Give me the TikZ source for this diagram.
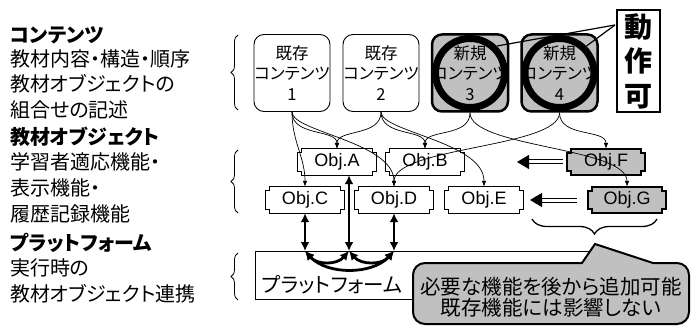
\documentclass[tikz,border=0pt]{standalone}
\usepackage{fontspec}
\setmainfont{Liberation Sans}
\newfontfamily\jp[RawFeature=+palt]{Noto Sans CJK JP}
\usetikzlibrary{arrows.meta,decorations.pathreplacing,backgrounds,calc}
\definecolor{boxgray}{RGB}{192,192,192}
\newcommand\objpath[1]{($(#1.north west)+(4,0)$) -- ($(#1.north east)+(-4,0)$) -- ++(0,4) -- ++(4,0) -- ($(#1.south east)+(0,-4)$) -- ++(-4,0) -- ++(0,4) -- ($(#1.south west)+(4,0)$) -- ++(0,-4) -- ++(-4,0) -- ($(#1.north west)+(0,4)$) -- ++(4,0) -- cycle}
\begin{document}
\begin{tikzpicture}[x=1pt,y=-1pt,
  lefttxt/.style={anchor=west, inner sep=0pt, font=\jp\fontsize{20}{20}\selectfont},
  lefthead/.style={anchor=west, inner sep=0pt, font=\jp\bfseries\fontsize{20}{20}\selectfont},
  content/.style={draw, rounded corners=10pt, minimum width=76pt, minimum height=77pt, inner sep=0pt, align=center, font=\jp\fontsize{16.5}{20.5}\selectfont, line width=0.9pt},
  newcontent/.style={content, fill=boxgray, line width=2.5pt},
  obj/.style={minimum width=78pt, minimum height=26pt, inner sep=0pt, font=\fontsize{18}{18}\selectfont},
  objframe/.style={draw, line width=0.9pt, fill=white},
  newframe/.style={draw, line width=2.5pt, fill=boxgray},
  link/.style={line width=0.7pt, -{Latex[length=6pt,width=4.5pt]}},
  bus/.style={line width=2.8pt, {Latex[length=9pt,width=9pt]}-{Latex[length=9pt,width=9pt]}},
  dbl/.style={double, double distance=3pt, line width=1pt, -{Triangle[length=12pt,width=14pt]}},
  lbrace/.style={decorate, decoration={brace, amplitude=7pt}, line width=0.8pt},
  ring/.style={line width=7pt}
]
\useasboundingbox (0,0) rectangle (691,326);

% left column
\node[lefthead] (h1) at (10,35) {コンテンツ};
\node[lefttxt] (t11) at (10,59) {教材内容・構造・順序};
\node[lefttxt] (t12) at (10,84) {教材オブジェクトの};
\node[lefttxt] (t13) at (10,110) {組合せの記述};
\node[lefthead] (h2) at (10,137) {教材オブジェクト};
\node[lefttxt] (t21) at (10,162) {学習者適応機能・};
\node[lefttxt] (t22) at (10,188) {表示機能・};
\node[lefttxt] (t23) at (10,214) {履歴記録機能};
\node[lefthead] (h3) at (10,243) {プラットフォーム};
\node[lefttxt] (t31) at (10,268) {実行時の};
\node[lefttxt] (t32) at (10,294) {教材オブジェクト連携};

% braces
\coordinate (b1a) at (238,110); \coordinate (b1b) at (238,35);
\coordinate (b2a) at (238,213); \coordinate (b2b) at (238,150);
\coordinate (b3a) at (238,300); \coordinate (b3b) at (238,253);
\draw[lbrace] (b1a) -- (b1b);
\draw[lbrace] (b2a) -- (b2b);
\draw[lbrace] (b3a) -- (b3b);

% contents
\node[content] (c1) at (292,73) {既存\\コンテンツ\\1};
\node[content] (c2) at (381,73) {既存\\コンテンツ\\2};
\node[newcontent] (c3) at (470,73) {新規\\コンテンツ\\3};
\node[newcontent] (c4) at (559.5,73) {新規\\コンテンツ\\4};
\draw[ring] (c3.center) circle (34.5pt);
\draw[ring] (c4.center) circle (34.5pt);

% dosa box
\node[draw, line width=2pt, minimum width=43pt, minimum height=102pt, inner sep=0pt, align=center, font=\jp\bfseries\fontsize{28}{34.5}\selectfont] (dosa) at (638.5,61) {動\\作\\可};
\coordinate (dtip) at (615,25);
\draw[line width=1.2pt] (dtip) -- ($(c3.center)+(27,-27)$);
\draw[line width=1.2pt] (dtip) -- ($(c4.center)+(27,-27)$);

% objects
\node[obj] (oA) at (337,162) {Obj.A};
\node[obj] (oB) at (425,162) {Obj.B};
\node[obj] (oC) at (305,200) {Obj.C};
\node[obj] (oD) at (394,200) {Obj.D};
\node[obj] (oE) at (484,200) {Obj.E};
\node[obj] (oF) at (606,162) {Obj.F};
\node[obj] (oG) at (627,200) {Obj.G};
\begin{scope}[on background layer]
\path[objframe] \objpath{oA};
\path[objframe] \objpath{oB};
\path[objframe] \objpath{oC};
\path[objframe] \objpath{oD};
\path[objframe] \objpath{oE};
\path[newframe] \objpath{oF};
\path[newframe] \objpath{oG};
\end{scope}

% links content -> objects
\draw[link] (c1.south) .. controls +(0,25) and +(0,-20) .. (oA.north);
\draw[link] (c1.south) .. controls +(0,30) and +(0,-30) .. (oC.north);
\draw[link] (c1.south) .. controls +(0,20) and +(0,-45) .. (oD.north);
\draw[link] (c2.south) .. controls +(0,25) and +(0,-20) .. (oA.north);
\draw[link] (c2.south) .. controls +(0,25) and +(0,-20) .. (oB.north);
\draw[link] (c2.south) .. controls +(0,20) and +(0,-45) .. (oE.north);
\draw[link] (c3.south) .. controls +(0,25) and +(0,-20) .. (oB.north);
\draw[link] (c3.south) .. controls +(0,35) and +(0,-40) .. (oG.north);
\draw[link] (c4.south) .. controls +(0,25) and +(0,-20) .. (oF.north);
\draw[link] (c4.south) .. controls +(0,35) and +(0,-40) .. (oD.north);

% double arrows
\coordinate (fT) at (517,162);
\coordinate (gT) at (530,200);
\draw[dbl] ($(oF.west)+(-4,0)$) -- (fT);
\draw[dbl] ($(oG.west)+(-11,0)$) -- (gT);

% platform
\node[draw, line width=0.9pt, minimum width=345pt, minimum height=48pt, anchor=north west, inner sep=0pt] (plat) at (255,251) {};
\node[anchor=west, inner sep=0pt, font=\jp\fontsize{20.5}{20.5}\selectfont] (plattxt) at (262,285) {プラットフォーム};
\coordinate (pc) at (305,251);
\coordinate (pa) at (349,251);
\coordinate (pd) at (394,251);
\draw[bus] (oC.south) -- (pc);
\draw[bus] (pa |- oA.south) -- (pa);
\draw[bus] (oD.south) -- (pd);
\draw[bus] (pc) .. controls +(12,14) and +(-12,14) .. (pa);
\draw[bus] (pa) .. controls +(12,14) and +(-12,14) .. (pd);
\draw[bus] (pc) .. controls +(22,24) and +(-22,24) .. (pd);

% brace under F/G
\coordinate (brR) at (657,219);
\coordinate (brL) at (532,219);
\draw[decorate, decoration={brace, amplitude=15pt}, line width=1.3pt] (brR) -- (brL);

% callout
\draw[line width=2pt, fill=boxgray] (595,244) -- (653,263) [rounded corners=12pt] -- (689,263) -- (689,324) -- (413,324) -- (413,263) [sharp corners] -- (582,263) -- cycle;
\node[align=center, inner sep=0pt, font=\jp\fontsize{20.5}{21.5}\selectfont] (note) at (551,297) {必要な機能を後から追加可能\\既存機能には影響しない};
\end{tikzpicture}
\end{document}
